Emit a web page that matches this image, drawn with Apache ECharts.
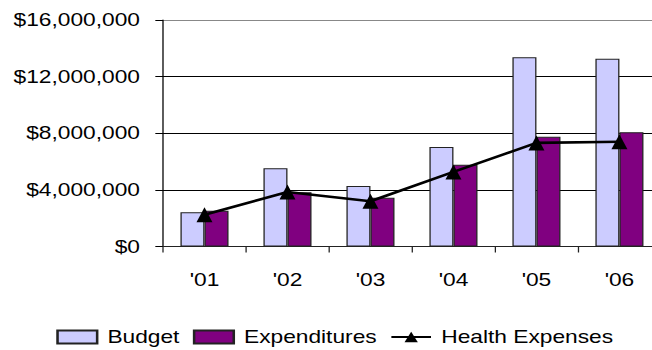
<!DOCTYPE html>
<html>
<head>
<meta charset="utf-8">
<script src="https://cdn.jsdelivr.net/npm/echarts@6/dist/echarts.min.js"></script>
<style>
  html, body { margin: 0; padding: 0; background: #fff; overflow: hidden; }
  #wrap { width: 652px; height: 350px; overflow: hidden; }
  /* chart is laid out at 517px and widened; the right edge runs past the frame */
  #chart { width: 517px; height: 350px; transform: scaleX(1.2784); transform-origin: 0 0; }
</style>
</head>
<body>
<div id="wrap"><div id="chart"></div></div>
<script>
// Fiscal years shown on the category axis
const years = ["'01", "'02", "'03", "'04", "'05", "'06"];

// Dollar amounts per year
const budget = [2420000, 5520000, 4270000, 7030000, 13370000, 13270000];
const expenditures = [2530000, 3830000, 3450000, 5780000, 7760000, 8070000];
const healthExpenses = [2250000, 3850000, 3200000, 5270000, 7320000, 7400000];

// Value-axis ticks
const yMin = 0;
const yMax = 16000000;
const yStep = 4000000;

const FONT = '"Liberation Sans", Arial, Helvetica, sans-serif';
const FS = 17.8;

function money(v) {
  return '$' + Math.round(v).toLocaleString('en-US');
}

const chart = echarts.init(document.getElementById('chart'), null, { renderer: 'svg' });

chart.setOption({
  animation: false,
  backgroundColor: '#ffffff',
  textStyle: { fontFamily: FONT, color: '#000' },
  grid: { left: 127.5, right: 0, top: 20, bottom: 103.5, containLabel: false },
  legend: {
    left: 44,
    top: 328,
    padding: 0,
    itemWidth: 31,
    itemHeight: 13,
    itemGap: 10.5,
    textStyle: { fontFamily: FONT, fontSize: FS, color: '#000', padding: [0, 0, 0, 3] },
    data: [
      { name: 'Budget', icon: 'rect' },
      { name: 'Expenditures', icon: 'rect' },
      { name: 'Health Expenses' }
    ]
  },
  xAxis: {
    type: 'category',
    data: years,
    boundaryGap: true,
    axisLine: { show: true, lineStyle: { color: '#222', width: 1 } },
    axisTick: { show: true, inside: false, length: 6, lineStyle: { color: '#222' } },
    axisLabel: { fontFamily: FONT, fontSize: FS, color: '#000', margin: 24 },
    splitLine: { show: false }
  },
  yAxis: {
    type: 'value',
    min: yMin,
    max: yMax,
    interval: yStep,
    axisLine: { show: true, lineStyle: { color: '#000', width: 1 } },
    axisTick: { show: true, inside: false, length: 6, lineStyle: { color: '#000' } },
    axisLabel: { fontFamily: FONT, fontSize: FS, color: '#000', margin: 18, formatter: money },
    splitLine: {
      show: true,
      lineStyle: { color: ['#000', '#000', '#000', '#000', '#888'], width: 1 }
    }
  },
  series: [
    {
      name: 'Budget',
      type: 'bar',
      data: budget,
      barWidth: 18.8,
      barGap: '0%',
      itemStyle: { color: '#CCCCFF', borderColor: '#222', borderWidth: 1 }
    },
    {
      name: 'Expenditures',
      type: 'bar',
      data: expenditures,
      barWidth: 18.8,
      barGap: '0%',
      itemStyle: { color: '#800080', borderColor: '#222', borderWidth: 1 }
    },
    {
      name: 'Health Expenses',
      type: 'line',
      data: healthExpenses,
      symbol: 'triangle',
      symbolSize: [12.5, 15],
      showSymbol: true,
      lineStyle: { color: '#000', width: 2.6 },
      itemStyle: { color: '#000' },
      z: 5
    }
  ]
});
</script>
</body>
</html>
